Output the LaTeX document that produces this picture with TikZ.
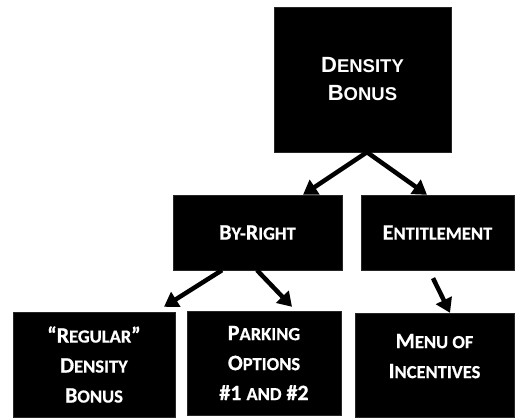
\documentclass[tikz,border=0pt]{standalone}
\usepackage{fontspec}
\setmainfont{Carlito}[BoldFeatures={FakeBold=0.6}]
\newfontfamily\arialfont{Liberation Sans}
\usetikzlibrary{arrows.meta, positioning, calc}
% small-capital look: first letter full size, rest smaller
\newcommand{\lowcap}[1]{{\fontsize{18.5pt}{30pt}\selectfont #1}}
\newcommand{\lowcapa}[1]{{\fontsize{18.5pt}{28pt}\selectfont #1}}
\tikzset{
  box/.style={
    rectangle, fill=black, draw=black!85, text=white,
    inner sep=0pt, align=center,
    font=\bfseries\fontsize{22pt}{30pt}\selectfont
  },
  topbox/.style={
    box, font=\arialfont\bfseries\fontsize{22pt}{28pt}\selectfont
  },
  link/.style={
    -{Triangle[length=14pt,width=17pt]}, line width=4.5pt, draw=black
  }
}

\begin{document}
\begin{tikzpicture}[x=1pt, y=-1pt]
  \useasboundingbox (0,0) rectangle (516,418);
  % boxes
  \node[topbox, minimum width=177pt, minimum height=145pt] (bonus) at (362.5,79.5)
    {D\lowcapa{ENSITY}\\B\lowcapa{ONUS}};
  \node[box, minimum width=169pt, minimum height=75pt] (byright) at (257.5,232.5)
    {B\lowcap{Y-}R\lowcap{IGHT}};
  \node[box, minimum width=153pt, minimum height=75pt] (entitle) at (437.5,232.5)
    {E\lowcap{NTITLEMENT}};
  \node[box, minimum width=162pt, minimum height=105pt] (regular) at (94,364.5)
    {“R\lowcap{EGULAR}”\\D\lowcap{ENSITY}\\B\lowcap{ONUS}};
  \node[box, minimum width=154pt, minimum height=104pt] (parking) at (264,363)
    {P\lowcap{ARKING}\\O\lowcap{PTIONS}\\\#1 \lowcap{AND} \#2};
  \node[box, minimum width=159pt, minimum height=104pt] (menu) at (434.5,365)
    {M\lowcap{ENU OF}\\I\lowcap{NCENTIVES}\\[-12pt]\mbox{}};
  % arrows
  \draw[link] ([xshift=4.5pt]bonus.south) -- ([xshift=45.5pt]byright.north);
  \draw[link] ([xshift=4.5pt]bonus.south) -- ([xshift=-10.5pt]entitle.north);
  \draw[link] ([xshift=-35.5pt]byright.south) -- ([xshift=70pt,yshift=5pt]regular.north);
  \draw[link] ([xshift=-0.5pt]byright.south) -- ([xshift=28pt,yshift=4pt]parking.north);
  \draw[link] ([xshift=-4.5pt,yshift=-8pt]entitle.south) -- ([xshift=15.5pt]menu.north);
\end{tikzpicture}
\end{document}
